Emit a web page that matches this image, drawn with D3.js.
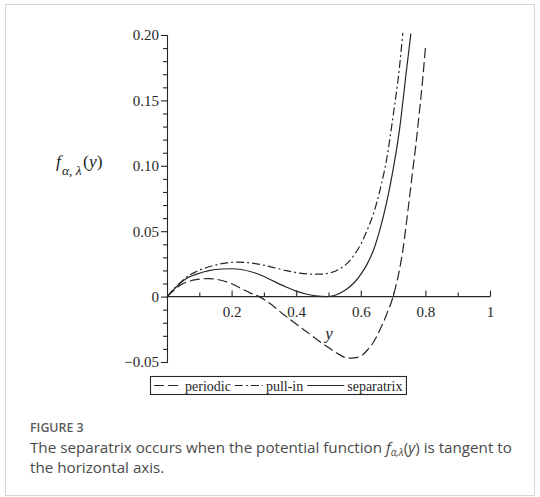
<!DOCTYPE html>
<html>
<head>
<meta charset="utf-8">
<script src="https://cdn.jsdelivr.net/npm/d3@7"></script>
<style>
  html, body { margin: 0; padding: 0; background: #fff; }
  svg { display: block; }
</style>
</head>
<body>
<svg id="chart" width="540" height="497"></svg>
<script>
// ---------- data ----------
const periodicX = [0, 0.02, 0.04, 0.06, 0.09, 0.13, 0.17, 0.20, 0.23, 0.26, 0.285, 0.32, 0.36, 0.40, 0.43, 0.46, 0.50, 0.53, 0.56, 0.58, 0.60, 0.62, 0.64, 0.66, 0.68, 0.70, 0.72, 0.73, 0.74, 0.75, 0.76, 0.77, 0.78, 0.79, 0.80];
const periodicY = [0, 0.0045, 0.0085, 0.011, 0.013, 0.0138, 0.0123, 0.0098, 0.0062, 0.0025, 0, -0.0055, -0.0135, -0.021, -0.0265, -0.032, -0.039, -0.0438, -0.047, -0.0468, -0.0455, -0.041, -0.0345, -0.025, -0.0135, 0, 0.021, 0.035, 0.054, 0.074, 0.095, 0.115, 0.138, 0.162, 0.190];

const pullInX = [0, 0.02, 0.04, 0.06, 0.09, 0.13, 0.17, 0.21, 0.25, 0.29, 0.33, 0.37, 0.41, 0.45, 0.48, 0.51, 0.54, 0.56, 0.58, 0.60, 0.62, 0.64, 0.66, 0.68, 0.70, 0.72, 0.73];
const pullInY = [0, 0.0055, 0.0105, 0.0148, 0.019, 0.0228, 0.0252, 0.0263, 0.026, 0.0245, 0.0222, 0.0198, 0.018, 0.0171, 0.0172, 0.0185, 0.022, 0.026, 0.032, 0.040, 0.051, 0.064, 0.082, 0.105, 0.138, 0.176, 0.2015];

const separatrixX = [0, 0.02, 0.04, 0.06, 0.09, 0.13, 0.17, 0.20, 0.23, 0.26, 0.29, 0.33, 0.37, 0.40, 0.43, 0.46, 0.494, 0.52, 0.55, 0.58, 0.60, 0.62, 0.64, 0.66, 0.68, 0.70, 0.72, 0.74, 0.755];
const separatrixY = [0, 0.0052, 0.010, 0.0138, 0.017, 0.0198, 0.0211, 0.0213, 0.0207, 0.019, 0.0165, 0.0118, 0.0072, 0.0042, 0.002, 0.0006, 0, 0.0010, 0.0046, 0.0108, 0.017, 0.025, 0.036, 0.052, 0.072, 0.097, 0.128, 0.170, 0.201];

const seriesNames = ["periodic", "pull-in", "separatrix"];
const xMajorTicks = [0.2, 0.4, 0.6, 0.8, 1];
const xMajorLabels = ["0.2", "0.4", "0.6", "0.8", "1"];
const xMinorTicks = [0.1, 0.3, 0.5, 0.7, 0.9];
const yMajorTicks = [-0.05, 0, 0.05, 0.10, 0.15, 0.20];
const yMajorLabels = ["\u22120.05", "0", "0.05", "0.10", "0.15", "0.20"];
const yMinorTicks = [-0.04, -0.03, -0.02, -0.01, 0.01, 0.02, 0.03, 0.04, 0.06, 0.07, 0.08, 0.09, 0.11, 0.12, 0.13, 0.14, 0.16, 0.17, 0.18, 0.19];

// ---------- drawing ----------
const svg = d3.select("#chart");
const serif = "Liberation Serif, Times New Roman, serif";
const sans = "Open Sans, Noto Sans, sans-serif";
const ink = "#262626";

// outer frame
svg.append("rect").attr("x", 5.5).attr("y", 4.5).attr("width", 529).attr("height", 491)
  .attr("fill", "#fff").attr("stroke", "#d4d4d4").attr("stroke-width", 1);

const x = d3.scaleLinear().domain([0, 1]).range([167, 490]);
const y = d3.scaleLinear().domain([-0.05, 0.20]).range([362, 35]);

// y axis
svg.append("g").attr("transform", `translate(${x(0)},0)`)
  .call(d3.axisLeft(y).tickValues(yMajorTicks).tickSize(6).tickPadding(2)
    .tickFormat((d, i) => yMajorLabels[i]));
svg.append("g").attr("transform", `translate(${x(0)},0)`)
  .call(d3.axisLeft(y).tickValues(yMinorTicks).tickSize(4).tickFormat(""))
  .call(g => g.select(".domain").remove());

// x axis (ticks pointing up)
const xAxis = svg.append("g").attr("transform", `translate(0,${y(0)})`)
  .call(d3.axisBottom(x).tickValues(xMajorTicks).tickSizeInner(-6).tickSizeOuter(0).tickPadding(10)
    .tickFormat((d, i) => xMajorLabels[i]));
svg.append("g").attr("transform", `translate(0,${y(0)})`)
  .call(d3.axisBottom(x).tickValues(xMinorTicks).tickSizeInner(-4).tickSizeOuter(0).tickFormat(""))
  .call(g => g.select(".domain").remove());
xAxis.select(".domain").attr("d", `M${x(0)},0H${x(1)}`);

svg.selectAll("g").attr("font-family", serif);
svg.selectAll(".tick line, .domain").attr("stroke", ink).attr("stroke-width", 1.1);
svg.selectAll(".tick text").style("font-family", serif).attr("font-size", 15).attr("fill", ink);

// curves
const styles = [
  { name: seriesNames[0], xs: periodicX, ys: periodicY, dash: "10,4" },
  { name: seriesNames[1], xs: pullInX, ys: pullInY, dash: "8,3,2,3" },
  { name: seriesNames[2], xs: separatrixX, ys: separatrixY, dash: null }
];
const line = d3.line().x(d => x(d[0])).y(d => y(d[1])).curve(d3.curveMonotoneX);
styles.forEach(s => {
  const pts = s.xs.map((v, i) => [v, s.ys[i]]);
  svg.append("path").datum(pts).attr("d", line)
    .attr("fill", "none").attr("stroke", ink).attr("stroke-width", 1.2)
    .attr("stroke-dasharray", s.dash);
});

// axis titles
svg.append("text").attr("x", x(0.49)).attr("y", 339)
  .style("font-family", serif).attr("font-style", "italic").attr("font-size", 17).attr("fill", ink).text("y");

const yl = svg.append("text").attr("x", 56).attr("y", 167)
  .style("font-family", serif).attr("font-size", 17.5).attr("fill", ink);
yl.append("tspan").attr("font-style", "italic").text("f");
yl.append("tspan").attr("font-size", 13.5).attr("font-style", "italic").attr("dy", 8).attr("dx", 1).text("\u03b1, \u03bb");
yl.append("tspan").attr("dy", -8).attr("dx", 1.5).text("(");
yl.append("tspan").attr("font-style", "italic").text("y");
yl.append("tspan").text(")");

// legend
const lg = svg.append("g");
const box = lg.append("rect").attr("x", 150.5).attr("y", 376.5).attr("height", 18)
  .attr("fill", "#fff").attr("stroke", ink).attr("stroke-width", 1.1);
const sampleLen = [28, 28, 37];
let cx = 154;
styles.forEach((s, i) => {
  lg.append("line").attr("x1", cx).attr("x2", cx + sampleLen[i]).attr("y1", 385.5).attr("y2", 385.5)
    .attr("stroke", ink).attr("stroke-width", 1.2).attr("stroke-dasharray", s.dash);
  cx += sampleLen[i] + 3;
  const t = lg.append("text").attr("x", cx).attr("y", 390.5).style("font-family", serif)
    .attr("font-size", 14).attr("fill", ink).text(s.name);
  cx += t.node().getComputedTextLength() + 4;
});
box.attr("width", cx - 150.5);

// caption
svg.append("text").attr("x", 30).attr("y", 432).style("font-family", sans).attr("font-size", 12.4)
  .attr("font-weight", 600).attr("fill", "#5a5a5a").text("FIGURE 3");
const c1 = svg.append("text").attr("x", 30).attr("y", 453).style("font-family", sans)
  .attr("font-size", 15.2).attr("fill", "#4a4a4a");
c1.append("tspan").text("The separatrix occurs when the potential function ");
c1.append("tspan").attr("font-style", "italic").text("f");
c1.append("tspan").attr("font-style", "italic").attr("font-size", 10).attr("dy", 3).text("\u03b1,\u03bb");
c1.append("tspan").attr("dy", -3).text("(");
c1.append("tspan").attr("font-style", "italic").text("y");
c1.append("tspan").text(") is tangent to");
svg.append("text").attr("x", 30).attr("y", 473).style("font-family", sans)
  .attr("font-size", 15.2).attr("fill", "#4a4a4a").text("the horizontal axis.");
</script>
</body>
</html>
